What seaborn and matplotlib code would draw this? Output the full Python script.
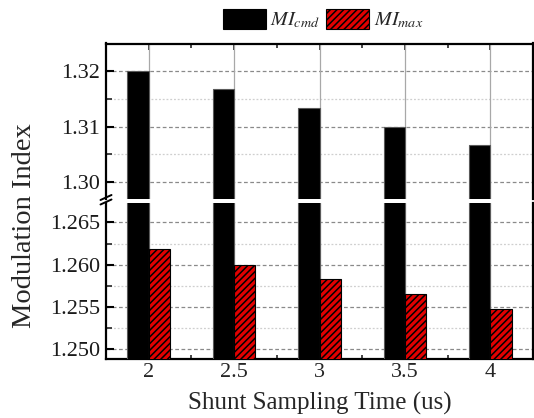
import matplotlib
matplotlib.use("Agg")
import matplotlib.pyplot as plt
from matplotlib.patches import Patch
from matplotlib.lines import Line2D
from matplotlib.ticker import FixedLocator, FormatStrFormatter
import pandas as pd
import seaborn as sns

# Data
sampling_time = ["2", "2.5", "3", "3.5", "4"]
mi_cmd = [1.3200, 1.3167, 1.3133, 1.3100, 1.3067]
mi_max = [1.2618, 1.2600, 1.2583, 1.2565, 1.2547]
series_labels = [r"$MI_{cmd}$", r"$MI_{max}$"]

sns.set_theme(style="white")
plt.rcParams["font.family"] = ["Liberation Serif", "DejaVu Serif"]
plt.rcParams["mathtext.fontset"] = "stix"
plt.rcParams["hatch.linewidth"] = 1.1
plt.rcParams["hatch.color"] = "black"

df = pd.DataFrame({
    "time": sampling_time * 2,
    "value": mi_cmd + mi_max,
    "series": ["cmd"] * len(mi_cmd) + ["max"] * len(mi_max),
})

W, H = 534, 418
fig = plt.figure(figsize=(W / 100, H / 100), dpi=100)

def fx(px):
    return px / W

def fy(py):
    return 1 - py / H

left, right = 106, 533
ax_top = fig.add_axes([fx(left), fy(199), fx(right - left), fy(43.5) - fy(199)])
ax_bot = fig.add_axes([fx(left), fy(359.3), fx(right - left), fy(203) - fy(359.3)])

red = "#e10000"
palette = {"cmd": "black", "max": red}
tick_fs = 16

for ax in (ax_top, ax_bot):
    sns.barplot(data=df, x="time", y="value", hue="series", palette=palette,
                width=0.5, dodge=True, ax=ax, legend=False, saturation=1,
                zorder=3)
    for container, name in zip(ax.containers, ["cmd", "max"]):
        for bar in container:
            if name == "cmd":
                bar.set_edgecolor("#5a5a5a")
                bar.set_linewidth(0.8)
            else:
                bar.set_edgecolor("black")
                bar.set_linewidth(0.8)
                bar.set_hatch("/////")
    ax.set_xlim(-0.5, 4.5)
    ax.set_xlabel("")
    ax.set_ylabel("")
    # vertical grid at each category
    for i in range(len(sampling_time)):
        ax.axvline(i, color="#a8a8a8", lw=0.9, zorder=1)
    ax.grid(False)
    ax.yaxis.grid(True, which="major", color="#8a8a8a", lw=0.9,
                  linestyle=(0, (3, 2)), zorder=1)
    ax.yaxis.grid(True, which="minor", color="#cfcfcf", lw=0.9,
                  linestyle=(0, (1.5, 1.5)), zorder=1)
    ax.set_axisbelow(True)
    for s in ax.spines.values():
        s.set_linewidth(1.6)
        s.set_color("black")
    ax.xaxis.set_minor_locator(FixedLocator([0.5, 1.5, 2.5, 3.5]))
    ax.tick_params(axis="y", which="major", direction="in", length=6, width=1.5,
                   labelsize=tick_fs, pad=4, left=True, right=False, colors="black")
    ax.tick_params(axis="y", which="minor", direction="in", length=4, width=1.2,
                   left=True, right=False)
    for lab in ax.get_yticklabels():
        lab.set_color("#1a1a1a")

# Upper part of the broken axis
ax_top.set_ylim(1.2969, 1.3250)
ax_top.yaxis.set_major_locator(FixedLocator([1.30, 1.31, 1.32]))
ax_top.yaxis.set_minor_locator(FixedLocator([1.305, 1.315]))
ax_top.yaxis.set_major_formatter(FormatStrFormatter("%.2f"))
ax_top.spines["bottom"].set_visible(False)
ax_top.tick_params(axis="x", which="both", direction="in", bottom=False, top=True,
                   labelbottom=False, labeltop=False, width=1.2)
ax_top.tick_params(axis="x", which="major", length=4)
ax_top.tick_params(axis="x", which="minor", length=3)

# Lower part of the broken axis
ax_bot.set_ylim(1.2488, 1.2673)
ax_bot.yaxis.set_major_locator(FixedLocator([1.250, 1.255, 1.260, 1.265]))
ax_bot.yaxis.set_minor_locator(FixedLocator([1.2525, 1.2575, 1.2625]))
ax_bot.yaxis.set_major_formatter(FormatStrFormatter("%.3f"))
ax_bot.spines["top"].set_visible(False)
ax_bot.tick_params(axis="x", which="both", direction="in", bottom=True, top=False,
                   labelsize=tick_fs, pad=3, width=1.2)
ax_bot.tick_params(axis="x", which="major", length=4)
ax_bot.tick_params(axis="x", which="minor", length=3)
ax_bot.set_xticks(range(len(sampling_time)))
ax_bot.set_xticklabels(sampling_time)
ax_bot.set_xlabel("Shunt Sampling Time (us)", fontsize=18, labelpad=7)

# Break marks on the left axis
for yb in (197.5, 202.0):
    fig.add_artist(Line2D([fx(100.5), fx(111.5)], [fy(yb + 2.5), fy(yb - 2.5)],
                          color="black", lw=1.4))

fig.text(fx(25), fy(226), "Modulation Index", rotation=90, ha="center",
         va="center", fontsize=20.5)

handles = [
    Patch(facecolor="black", edgecolor="black", linewidth=0.8),
    Patch(facecolor=red, edgecolor="black", linewidth=0.8, hatch="/////"),
]
fig.legend(handles, series_labels, loc="center", ncol=2,
           bbox_to_anchor=(fx(323), fy(20)), frameon=False, fontsize=14.5,
           handlelength=2.15, handleheight=1.1, handletextpad=0.2,
           columnspacing=0.3, borderaxespad=0, borderpad=0)

fig.savefig("out.png", dpi=100)
